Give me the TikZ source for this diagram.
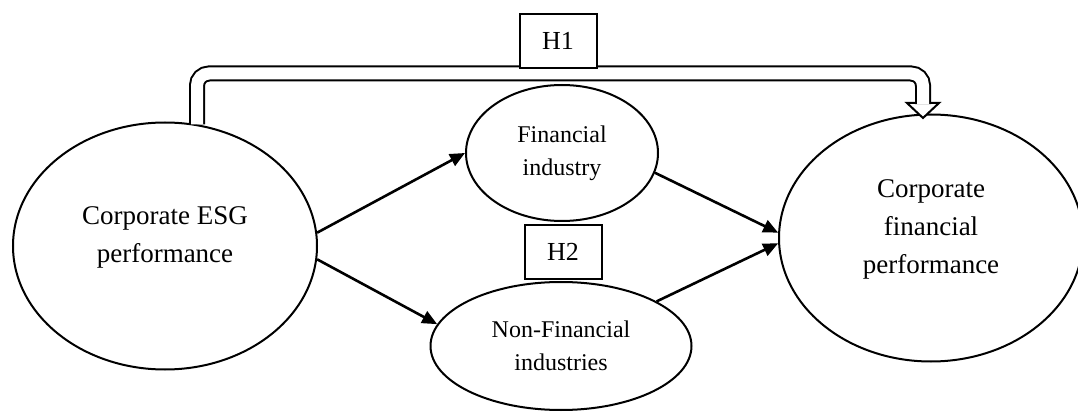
\documentclass[tikz,border=0pt]{standalone}
\usepackage{fontspec}
\setmainfont{Liberation Serif}
\usetikzlibrary{shapes.geometric,arrows.meta}
\begin{document}
\begin{tikzpicture}[x=0.5pt,y=-0.5pt]
\tikzstyle{bigvar} = [ellipse, draw=black, line width=1pt, minimum width=152pt, minimum height=123.5pt, inner sep=0pt]
\tikzstyle{bigtext} = [align=center, yshift=4.5pt, font=\fontsize{13.5}{19}\selectfont]
\tikzstyle{smallvar} = [ellipse, draw=black, line width=1pt, inner sep=0pt, align=center, font=\fontsize{12}{16.5}\selectfont]
\tikzstyle{hyp} = [rectangle, draw=black, fill=white, line width=1pt, minimum width=38.5pt, minimum height=27pt, font=\fontsize{13}{15}\selectfont]
\tikzstyle{edge} = [draw=black, line width=1.3pt, -{Triangle[length=7.5pt,width=6.5pt]}]
\tikzstyle{shaft} = [draw=black, line width=1pt, double=white, double distance=6pt, rounded corners=6pt]

\useasboundingbox (0,0) rectangle (1078,417);

\node[bigvar, label={[bigtext]center:{Corporate ESG\\performance}}] (esg) at (165,246) {};
\node[smallvar, minimum width=96pt, minimum height=68pt] (fin) at (562,153) {Financial\\industry};
\node[smallvar, minimum width=130.5pt, minimum height=64pt] (nonfin) at (561,346) {Non-Financial\\industries};
\node[bigvar, label={[bigtext]center:{Corporate\\financial\\performance}}] (cfp) at (931,238) {};
\coordinate (tip) at ([xshift=-4pt,yshift=-2.25pt]cfp.north);
\coordinate (bend) at (558,73.5);

\draw[draw=black, line width=1pt, fill=white] (tip) -- ++(-8pt,7.5pt) -- ++(16pt,0) -- cycle;
\draw[shaft] ([xshift=16pt,yshift=-1.4pt]esg.north) |- (bend) -| ([yshift=6.9pt]tip);

\node[hyp] (h1) at (558,41) {H1};
\node[hyp] (h2) at (563,252) {H2};

\draw[edge] (esg.5) to (fin.west);
\draw[edge] (esg.-5) to (nonfin.170);
\draw[edge] (fin.-12) to (cfp.178);
\draw[edge] (nonfin.25) to (cfp.182);
\end{tikzpicture}
\end{document}
